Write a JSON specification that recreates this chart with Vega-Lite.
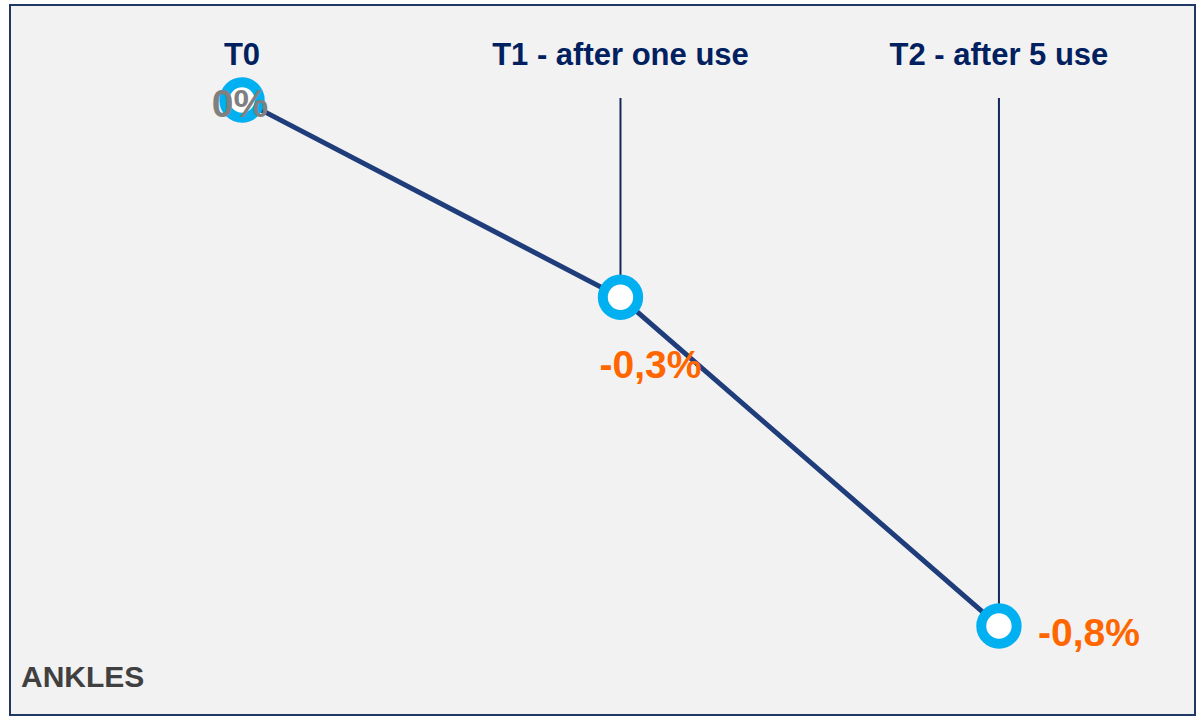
{
  "$schema": "https://vega.github.io/schema/vega-lite/v6.json",
  "width": 1185,
  "height": 710,
  "autosize": {"type": "none"},
  "padding": {"left": 10, "top": 5, "right": 1, "bottom": 2},
  "background": "#ffffff",
  "config": {
    "view": {"fill": "#f2f2f2", "stroke": "#203864", "strokeWidth": 2}
  },
  "title": {
    "text": "ANKLES",
    "orient": "bottom",
    "anchor": "start",
    "baseline": "alphabetic",
    "offset": -28,
    "dx": 11,
    "font": "Liberation Sans",
    "fontSize": 30,
    "fontWeight": "bold",
    "color": "#404040"
  },
  "data": {
    "values": [
      {"stage": "T0", "t": 0, "value": 0, "label": "0%"},
      {"stage": "T1 - after one use", "t": 1, "value": -0.3, "label": "-0,3%"},
      {"stage": "T2 - after 5 use", "t": 2, "value": -0.8, "label": "-0,8%"}
    ]
  },
  "encoding": {
    "x": {"field": "t", "type": "quantitative", "scale": {"domain": [-0.613, 2.518], "nice": false, "zero": false}, "axis": null},
    "y": {"field": "value", "type": "quantitative", "scale": {"domain": [-0.9353, 0.1445], "nice": false, "zero": false}, "axis": null}
  },
  "layer": [
    {
      "transform": [{"filter": "datum.value < 0"}],
      "mark": {"type": "rule", "color": "#14285a", "strokeWidth": 2},
      "encoding": {
        "y2": {"datum": 0.0031}
      }
    },
    {
      "mark": {"type": "line", "color": "#1f3d7a", "strokeWidth": 5},
      "encoding": {}
    },
    {
      "mark": {"type": "point", "filled": false, "fill": "#ffffff", "fillOpacity": 1, "stroke": "#00b0f0", "strokeWidth": 10, "size": 1250, "opacity": 1},
      "encoding": {}
    },
    {
      "transform": [{"filter": "datum.t == 0"}],
      "mark": {"type": "text", "color": "#808080", "font": "Liberation Sans", "fontWeight": "bold", "fontSize": 39, "align": "center", "baseline": "alphabetic", "dx": -2, "dy": 17},
      "encoding": {
        "text": {"field": "label"}
      }
    },
    {
      "transform": [{"filter": "datum.t == 1"}],
      "mark": {"type": "text", "color": "#ff6600", "font": "Liberation Sans", "fontWeight": "bold", "fontSize": 39, "align": "center", "baseline": "alphabetic", "dx": 30, "dy": 81},
      "encoding": {
        "text": {"field": "label"}
      }
    },
    {
      "transform": [{"filter": "datum.t == 2"}],
      "mark": {"type": "text", "color": "#ff6600", "font": "Liberation Sans", "fontWeight": "bold", "fontSize": 39, "align": "left", "baseline": "alphabetic", "dx": 39, "dy": 20},
      "encoding": {
        "text": {"field": "label"}
      }
    },
    {
      "mark": {"type": "text", "color": "#002060", "font": "Liberation Sans", "fontWeight": "bold", "fontSize": 31, "align": "center", "baseline": "alphabetic"},
      "encoding": {
        "y": {"datum": 0.0532, "type": "quantitative"},
        "text": {"field": "stage"}
      }
    }
  ]
}
